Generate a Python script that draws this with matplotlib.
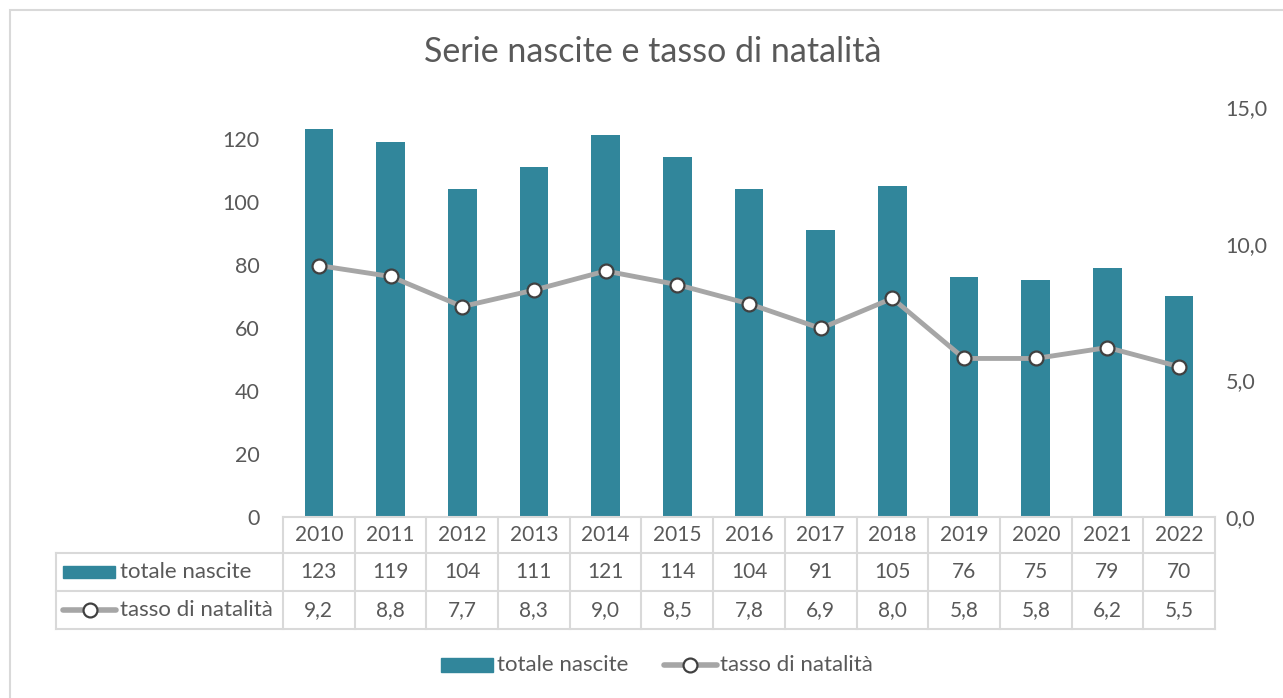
import matplotlib
matplotlib.use("Agg")
import matplotlib.pyplot as plt
from matplotlib.lines import Line2D
from matplotlib.patches import Rectangle
import numpy as np

years = ["2010", "2011", "2012", "2013", "2014", "2015", "2016",
         "2017", "2018", "2019", "2020", "2021", "2022"]
nascite = [123, 119, 104, 111, 121, 114, 104, 91, 105, 76, 75, 79, 70]
tasso = [9.2, 8.8, 7.7, 8.3, 9.0, 8.5, 7.8, 6.9, 8.0, 5.8, 5.8, 6.2, 5.5]
left_ticks = [0, 20, 40, 60, 80, 100, 120]
right_ticks = [0, 5, 10, 15]
title = "Serie nascite e tasso di natalità"
name_bar = "totale nascite"
name_line = "tasso di natalità"

plt.rcParams['font.family'] = ['Lato', 'DejaVu Sans']
TXT = "#595959"
BAR = "#31869b"
LINE = "#a6a6a6"
GRID = "#d9d9d9"
FS_NUM = 15
FS_TICK = 15.5
FS_WORD = 16

W, H = 1283, 698
fig = plt.figure(figsize=(W / 100, H / 100), dpi=100)

def fx(px):
    return px / W

def fy(py):
    return 1 - py / H

# chart border
fig.add_artist(Rectangle((fx(10), fy(710)), fx(1300) - fx(10), fy(10) - fy(710),
                         transform=fig.transFigure, fill=False, edgecolor=GRID, lw=1.5))

L, R, T, B = 283, 1215, 107, 517
ax = fig.add_axes([fx(L), fy(B), fx(R) - fx(L), fy(T) - fy(B)])
x = np.arange(len(years))
ax.bar(x, nascite, width=0.4, color=BAR, zorder=2)
ax.set_xlim(-0.5, len(years) - 0.5)
ax.set_ylim(0, 130)
ax.set_yticks(left_ticks)
ax.set_yticklabels([str(v) for v in left_ticks])
ax.tick_params(axis='y', length=0, pad=17, labelsize=FS_TICK, labelcolor=TXT)
ax.set_xticks([])
for s in ax.spines.values():
    s.set_visible(False)

ax2 = ax.twinx()
ax2.plot(x, tasso, color=LINE, lw=3.5, marker='o', markersize=10,
         markerfacecolor='white', markeredgecolor='#404040', markeredgewidth=1.6, zorder=3)
ax2.set_ylim(0, 15)
ax2.set_yticks(right_ticks)
ax2.set_yticklabels([f"{v:.1f}".replace('.', ',') for v in right_ticks])
ax2.tick_params(axis='y', length=0, pad=7.5, labelsize=FS_TICK, labelcolor=TXT)
for s in ax2.spines.values():
    s.set_visible(False)

fig.text(fx(653), fy(52), title, ha='center', va='center', fontsize=24.5, color=TXT)

# data table
row_y = [517, 553, 591, 629]
col_left = 56
lw = 1.5
def hline(y, x0, x1):
    fig.add_artist(Line2D([fx(x0), fx(x1)], [fy(y), fy(y)], transform=fig.transFigure,
                          color=GRID, lw=lw))
def vline(xp, y0, y1):
    fig.add_artist(Line2D([fx(xp), fx(xp)], [fy(y0), fy(y1)], transform=fig.transFigure,
                          color=GRID, lw=lw))

hline(row_y[0], L, R)
for yy in row_y[1:]:
    hline(yy, col_left, R)
vline(col_left, row_y[1], row_y[3])
cw = (R - L) / len(years)
for i in range(len(years) + 1):
    vline(L + i * cw, row_y[0], row_y[3])

for i, yr in enumerate(years):
    cx = L + (i + 0.5) * cw
    fig.text(fx(cx), fy((row_y[0] + row_y[1]) / 2), yr, ha='center', va='center',
             fontsize=FS_NUM, color=TXT)
    fig.text(fx(cx), fy((row_y[1] + row_y[2]) / 2), str(nascite[i]), ha='center', va='center',
             fontsize=FS_NUM, color=TXT)
    fig.text(fx(cx), fy((row_y[2] + row_y[3]) / 2), f"{tasso[i]:.1f}".replace('.', ','),
             ha='center', va='center', fontsize=FS_NUM, color=TXT)

# table legend keys
ry1 = (row_y[1] + row_y[2]) / 2
ry2 = (row_y[2] + row_y[3]) / 2
fig.add_artist(Rectangle((fx(63), fy(ry1 + 6)), fx(115) - fx(63), fy(ry1 - 6) - fy(ry1 + 6),
                         transform=fig.transFigure, color=BAR))
fig.text(fx(120), fy(ry1), name_bar, ha='left', va='center', fontsize=FS_WORD, color=TXT)
fig.add_artist(Line2D([fx(63), fx(116)], [fy(ry2), fy(ry2)], transform=fig.transFigure,
                      color=LINE, lw=4, solid_capstyle='round'))
fig.add_artist(Line2D([fx(89.5)], [fy(ry2)], transform=fig.transFigure, marker='o',
                      markersize=10, markerfacecolor='white', markeredgecolor='#404040',
                      markeredgewidth=1.6))
fig.text(fx(120), fy(ry2), name_line, ha='left', va='center', fontsize=FS_WORD, color=TXT)

# bottom legend
ly = 665
fig.add_artist(Rectangle((fx(441), fy(ly + 7)), fx(493) - fx(441), fy(ly - 7) - fy(ly + 7),
                         transform=fig.transFigure, color=BAR))
fig.text(fx(497), fy(ly), name_bar, ha='left', va='center', fontsize=FS_WORD, color=TXT)
fig.add_artist(Line2D([fx(664), fx(717)], [fy(ly), fy(ly)], transform=fig.transFigure,
                      color=LINE, lw=4, solid_capstyle='round'))
fig.add_artist(Line2D([fx(690)], [fy(ly)], transform=fig.transFigure, marker='o',
                      markersize=10, markerfacecolor='white', markeredgecolor='#404040',
                      markeredgewidth=1.6))
fig.text(fx(720), fy(ly), name_line, ha='left', va='center', fontsize=FS_WORD, color=TXT)

fig.savefig("out.png", dpi=100)
